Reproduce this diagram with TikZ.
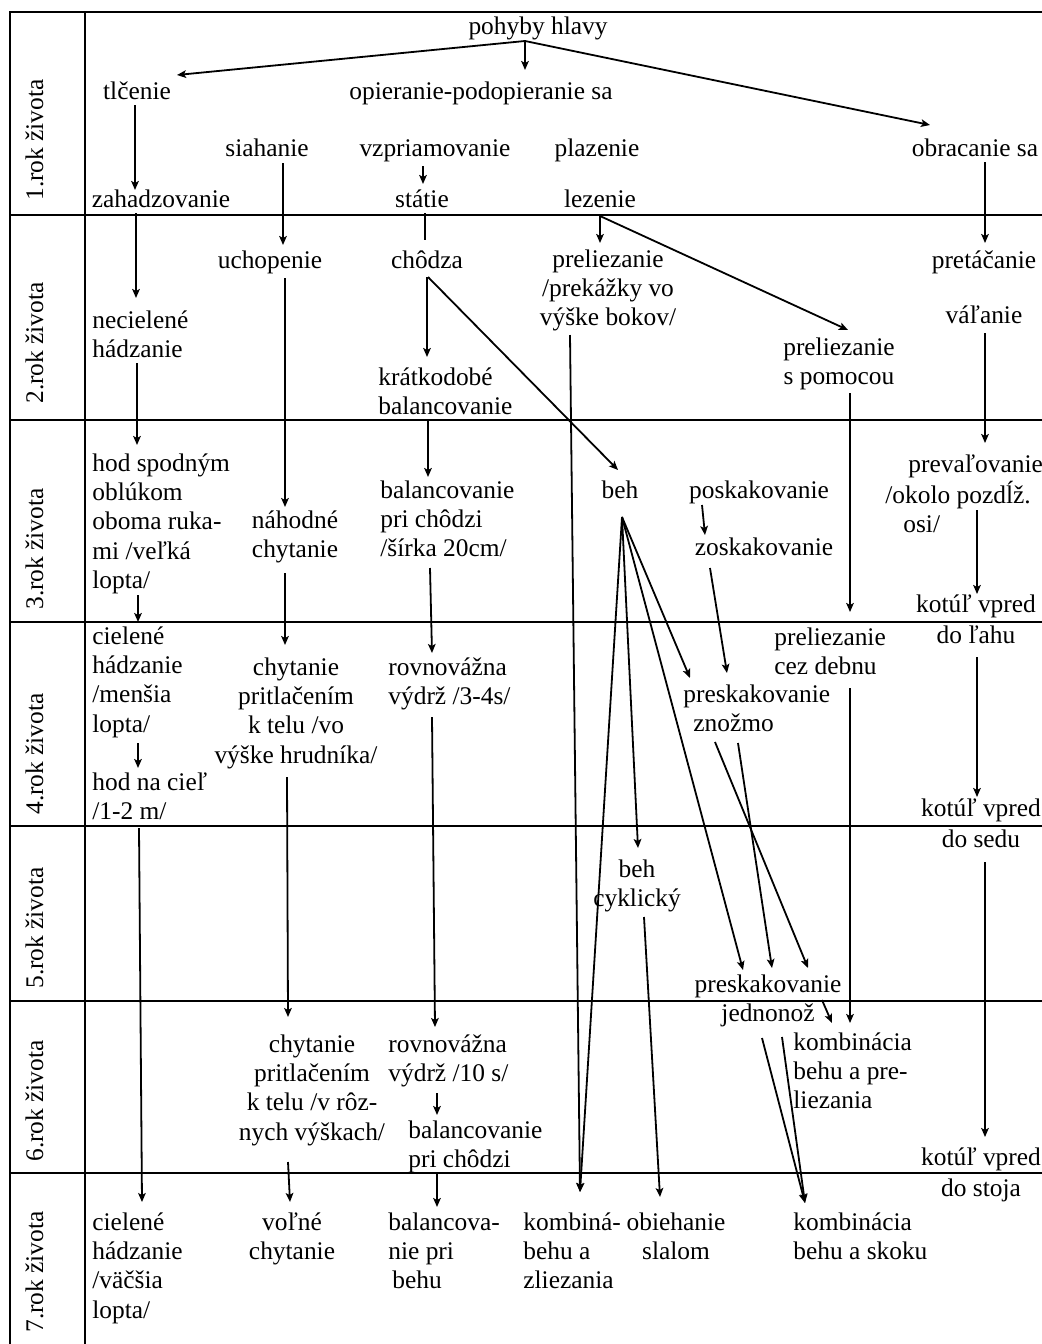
\documentclass[tikz,border=0pt]{standalone}
\usepackage{fontspec}
\setmainfont{Liberation Serif}
\usetikzlibrary{arrows.meta,calc}
\newcommand{\cellt}[2]{\begin{tabular}[t]{@{}#1@{}}#2\end{tabular}}
\begin{document}
\begin{tikzpicture}[x=0.5pt,y=-0.5pt,
  every node/.style={inner sep=0pt,font=\fontsize{12.7}{14.7}\selectfont},
  one/.style={anchor=base},
  lbl/.style={anchor=base west},
  ctr/.style={anchor=base},
  yr/.style={rotate=90,anchor=base west},
  grid/.style={line width=0.7pt},
  ln/.style={line width=0.9pt},
  arr/.style={ln,-{Stealth[length=4.5pt,width=3.8pt,inset=1pt]}}]
\useasboundingbox (0,0) rectangle (1042,1344);
\draw[grid] (10,1344) -- (10,12) -- (1042,12);
\draw[grid] (85,12) -- (85,1344);
\foreach \yy in {215,420,622,826,1001,1173}
  \draw[grid] (10,\yy) -- (1042,\yy);
% years
\node[yr] (r1) at (43,201) {1.rok života};
\node[yr] (r2) at (43,404) {2.rok života};
\node[yr] (r3) at (43,610) {3.rok života};
\node[yr] (r4) at (43,815) {4.rok života};
\node[yr] (r5) at (43,989) {5.rok života};
\node[yr] (r6) at (43,1162) {6.rok života};
\node[yr] (r7) at (43,1333) {7.rok života};
% 1. rok
\node[one] (ph) at (538,34) {pohyby hlavy};
\node[one] (tlc) at (137,99) {tlčenie};
\node[one] (opi) at (481,99) {opieranie-podopieranie sa};
\node[one] (sia) at (267,156) {siahanie};
\node[one] (vzp) at (435,156) {vzpriamovanie};
\node[one] (pla) at (597,156) {plazenie};
\node[one] (obr) at (975,156) {obracanie sa};
\node[one] (zah) at (161,207) {zahadzovanie};
\node[one] (sta) at (422,207) {státie};
\node[one] (lez) at (600,207) {lezenie};
% 2. rok
\node[one] (uch) at (270,268) {uchopenie};
\node[one] (cho) at (427,268) {chôdza};
\node[ctr] (pre1) at (608,267) {\cellt{c}{preliezanie\\/prekážky vo\\výške bokov/}};
\node[one] (pret) at (984,268) {pretáčanie};
\node[lbl] (nec) at (92,328) {\cellt{l}{necielené\\hádzanie}};
\node[one] (val) at (984,323) {váľanie};
\node[ctr] (psp) at (839,355) {\cellt{c}{preliezanie\\s pomocou}};
\node[lbl] (kra) at (378,385) {\cellt{l}{krátkodobé\\balancovanie}};
% 3. rok
\node[lbl] (hsp) at (92,471) {\cellt{l}{hod spodným\\oblúkom\\oboma ruka-\\mi /veľká\\lopta/}};
\node[ctr] (nah) at (295,528) {\cellt{c}{náhodné\\chytanie}};
\node[lbl] (bal1) at (380,498) {\cellt{l}{balancovanie\\pri chôdzi\\/šírka 20cm/}};
\node[one] (beh) at (620,498) {beh};
\node[one] (posk) at (759,498) {poskakovanie};
\node[one] (zosk) at (764,555) {zoskakovanie};
\node[lbl] (prev) at (885,472) {\cellt{l}{\hspace*{11.5pt}prevaľovanie\\/okolo pozdĺž.\\\hspace*{9pt}osi/}};
\node[ctr] (kv1) at (976,612) {\cellt{c}{kotúľ vpred\\[1pt]do ľahu}};
% 4. rok
\node[lbl] (cie1) at (92,644) {\cellt{l}{cielené\\hádzanie\\/menšia\\lopta/}};
\node[lbl] (pcd) at (774,645) {\cellt{l}{preliezanie\\cez debnu}};
\node[ctr] (chp1) at (296,675) {\cellt{c}{chytanie\\pritlačením\\k telu /vo\\výške hrudníka/}};
\node[lbl] (rov1) at (388,675) {\cellt{l}{rovnovážna\\výdrž /3-4s/}};
\node[lbl] (psz) at (683,702) {\cellt{l}{preskakovanie\\\hspace*{5pt}znožmo}};
\node[lbl] (hnc) at (92,790) {\cellt{l}{hod na cieľ\\/1-2 m/}};
\node[ctr] (kv2) at (981,816) {\cellt{c}{kotúľ vpred\\[1pt]do sedu}};
% 5. rok
\node[ctr] (bc) at (637,877) {\cellt{c}{beh\\cyklický}};
\node[ctr] (psj) at (768,992) {\cellt{c}{preskakovanie\\jednonož}};
% 6. rok
\node[lbl] (kbp) at (793,1050) {\cellt{l}{kombinácia\\behu a pre-\\liezania}};
\node[ctr] (chp2) at (312,1052) {\cellt{c}{chytanie\\pritlačením\\k telu /v rôz-\\nych výškach/}};
\node[lbl] (rov2) at (388,1052) {\cellt{l}{rovnovážna\\výdrž /10 s/}};
\node[lbl] (bal2) at (408,1138) {\cellt{l}{balancovanie\\pri chôdzi}};
\node[ctr] (kv3) at (981,1165) {\cellt{c}{kotúľ vpred\\[1pt]do stoja}};
% 7. rok
\node[lbl] (cie2) at (92,1230) {\cellt{l}{cielené\\hádzanie\\/väčšia\\lopta/}};
\node[ctr] (vch) at (292,1230) {\cellt{c}{voľné\\chytanie}};
\node[lbl] (bpb) at (388,1230) {\cellt{l}{balancova-\\nie pri\\\hspace*{2pt}behu}};
\node[lbl] (kzl) at (523,1230) {\cellt{l}{kombiná-\\behu a\\zliezania}};
\node[ctr] (obs) at (676,1230) {\cellt{c}{obiehanie\\slalom}};
\node[lbl] (kbs) at (793,1230) {\cellt{l}{kombinácia\\behu a skoku}};
% arrows
\draw[arr] ($(ph.base)+(-13,7)$) -- ($(tlc.base)+(40,-24)$);
\draw[arr] ($(ph.base)+(-13,8)$) -- ($(opi.base)+(44,-29)$);
\draw[arr] ($(ph.base)+(-13,7)$) -- ($(obr.base)+(-45,-31)$);
\draw[arr] ($(tlc.base)+(-2,6)$) -- ($(zah.base)+(-26,-17)$);
\draw[arr] ($(vzp.base)+(-12,10)$) -- ($(sta.base)+(1,-23)$);
\draw[arr] ($(sia.base)+(16,7)$) -- ($(uch.base)+(13,-23)$);
\draw[ln] ($(sta.base)+(3,6)$) -- ($(cho.base)+(-2,-28)$);
\draw[arr] ($(lez.base)+(0,9)$) -- ($(pre1.base)+(-8,-24)$);
\draw[arr] ($(lez.base)+(0,9)$) -- ($(psp.base)+(9,-25)$);
\draw[arr] ($(obr.base)+(10,6)$) -- ($(pret.base)+(1,-25)$);
\draw[arr] ($(zah.base)+(-25,6)$) -- ($(nec.base west)+(44,-30)$);
\draw[arr] ($(uch.base)+(15,10)$) -- ($(nah.base)+(-10,-21)$);
\draw[arr] ($(cho.base)+(0,9)$) -- ($(kra.base west)+(49,-28)$);
\draw[arr] ($(cho.base)+(1,9)$) -- ($(beh.base)+(-2,-28)$);
\draw[arr] ($(pre1.base)+(-38,68)$) -- ($(kzl.base west)+(57,-38)$);
\draw[arr] ($(psp.base)+(11,38)$) -- ($(pcd.base west)+(76,-33)$);
\draw[arr] ($(val.base)+(1,10)$) -- ($(prev.base west)+(100,-29)$);
\draw[arr] ($(nec.base west)+(45,35)$) -- ($(hsp.base west)+(45,-26)$);
\draw[arr] ($(kra.base west)+(50,36)$) -- ($(bal1.base west)+(48,-21)$);
\draw[arr] ($(hsp.base west)+(46,124)$) -- ($(cie1.base west)+(46,-22)$);
\draw[arr] ($(nah.base)+(-10,45)$) -- ($(chp1.base)+(-11,-30)$);
\draw[arr] ($(bal1.base west)+(50,70)$) -- ($(rov1.base west)+(44,-22)$);
\draw[arr] ($(posk.base)+(-57,7)$) -- ($(zosk.base)+(-59,-20)$);
\draw[arr] ($(zosk.base)+(-54,13)$) -- ($(psz.base west)+(44,-29)$);
\draw[arr] ($(beh.base)+(2,19)$) -- ($(psz.base west)+(7,-24)$);
\draw[arr] ($(beh.base)+(2,19)$) -- ($(bc.base)+(1,-29)$);
\draw[arr] ($(beh.base)+(2,19)$) -- ($(psj.base)+(-25,-22)$);
\draw[arr] ($(beh.base)+(2,19)$) -- ($(kzl.base west)+(57,-38)$);
\draw[arr] ($(prev.base west)+(92,38)$) -- ($(kv1.base)+(1,-18)$);
\draw[arr] ($(cie1.base west)+(46,99)$) -- ($(hnc.base west)+(46,-22)$);
\draw[arr] ($(hnc.base west)+(47,38)$) -- ($(cie2.base west)+(50,-28)$);
\draw[arr] ($(chp1.base)+(-9,102)$) -- ($(chp2.base)+(-24,-35)$);
\draw[arr] ($(rov1.base west)+(44,42)$) -- ($(rov2.base west)+(47,-25)$);
\draw[arr] ($(pcd.base west)+(76,43)$) -- ($(kbp.base west)+(57,-27)$);
\draw[arr] ($(psz.base west)+(32,40)$) -- ($(psj.base)+(40,-24)$);
\draw[arr] ($(psz.base west)+(55,41)$) -- ($(psj.base)+(4,-24)$);
\draw[arr] ($(kv1.base)+(1,45)$) -- ($(kv2.base)+(-4,-19)$);
\draw[arr] ($(kv2.base)+(4,46)$) -- ($(kv3.base)+(4,-28)$);
\draw[arr] ($(bc.base)+(7,40)$) -- ($(obs.base)+(-16,-33)$);
\draw[arr] ($(psj.base)+(54,8)$) -- ($(kbp.base west)+(39,-27)$);
\draw[arr] ($(psj.base)+(-6,46)$) -- ($(kbs.base west)+(12,-27)$);
\draw[arr] ($(psj.base)+(14,45)$) -- ($(kbs.base west)+(12,-27)$);
\draw[arr] ($(rov2.base west)+(49,41)$) -- ($(bal2.base west)+(29,-23)$);
\draw[arr] ($(chp2.base)+(-24,110)$) -- ($(vch.base)+(-2,-28)$);
\draw[arr] ($(bal2.base west)+(29,35)$) -- ($(bpb.base west)+(49,-23)$);
\end{tikzpicture}
\end{document}
